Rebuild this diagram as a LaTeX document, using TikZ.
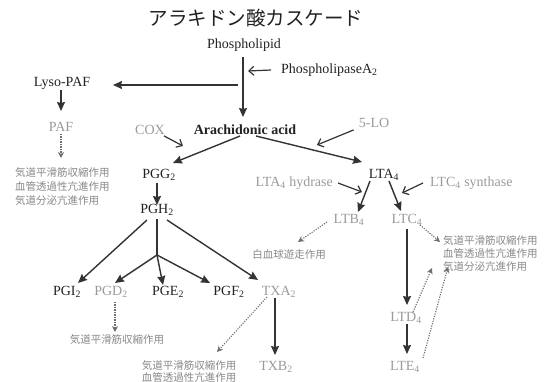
\documentclass[tikz,border=0pt]{standalone}
\usepackage{fontspec}
\setmainfont{Liberation Serif}
\newfontfamily\jp{Noto Sans CJK JP}
\usetikzlibrary{arrows.meta}
\definecolor{ink}{HTML}{222222}
\definecolor{lightink}{HTML}{9A9A9A}
\definecolor{effink}{HTML}{888888}
\definecolor{lineink}{HTML}{333333}
\definecolor{dotink}{HTML}{6E6E6E}
\tikzset{
  lbl/.style={inner sep=2pt, text=ink, font=\fontsize{14}{16}\selectfont},
  glbl/.style={lbl, text=lightink},
  eff/.style={inner sep=1pt, text=effink, align=left, font=\jp\fontsize{10.5}{14}\selectfont},
  arr/.style={draw=lineink, line width=1.4pt, -{Stealth[length=9pt,width=8pt,inset=1pt]}},
  open/.style={draw=lineink, line width=1.2pt, -{Straight Barb[length=5pt,width=9pt]}},
  plain/.style={draw=lineink, line width=1.4pt},
  dots/.style={draw=dotink, line width=1.1pt, dash pattern=on 1.2pt off 1.3pt, -{Stealth[length=6pt,width=6pt]}},
}
\begin{document}
\begin{tikzpicture}[x=1pt,y=-1pt]
\useasboundingbox (0,0) rectangle (547,382);
\clip (0,0) rectangle (547,382);
% title
\node[lbl, font=\jp\fontsize{19.5}{22}\selectfont] (title) at (256,18) {アラキドン酸カスケード};
% top part
\node[lbl] (phos) at (244,45) {Phospholipid};
\node[lbl, anchor=west] (pla) at (279,70) {PhospholipaseA\textsubscript{2}};
\node[lbl] (lyso) at (62,83) {Lyso-PAF};
\node[glbl] (paf) at (61,127) {PAF};
\node[eff, anchor=west] (pafeff) at (14,187) {気道平滑筋収縮作用\\血管透過性亢進作用\\気道分泌亢進作用};
\node[glbl] (cox) at (150,130) {COX};
\node[lbl, font=\bfseries\fontsize{14}{16}\selectfont] (aa) at (245,130) {Arachidonic acid};
\node[glbl] (lo5) at (374,123) {5-LO};
% PG branch
\node[lbl] (pgg) at (159,175) {PGG\textsubscript{2}};
\node[lbl] (pgh) at (157,210) {PGH\textsubscript{2}};
\node[lbl] (pgi) at (67,292) {PGI\textsubscript{2}};
\node[glbl] (pgd) at (111,292) {PGD\textsubscript{2}};
\node[lbl] (pge) at (168,292) {PGE\textsubscript{2}};
\node[lbl] (pgf) at (229,292) {PGF\textsubscript{2}};
\node[glbl] (txa) at (279,292) {TXA\textsubscript{2}};
\node[glbl] (txb) at (276,367) {TXB\textsubscript{2}};
\node[eff] (pgdeff) at (117,340) {気道平滑筋収縮作用};
\node[eff, font=\jp\fontsize{10.5}{12}\selectfont] (txaeff) at (189,372) {気道平滑筋収縮作用\\血管透過性亢進作用};
% LT branch
\node[lbl] (lta) at (384,175) {LTA\textsubscript{4}};
\node[glbl, anchor=east] (hyd) at (335,183) {LTA\textsubscript{4} hydrase};
\node[glbl, anchor=west] (syn) at (428,183) {LTC\textsubscript{4} synthase};
\node[glbl] (ltb) at (349,220) {LTB\textsubscript{4}};
\node[glbl] (ltc) at (407,220) {LTC\textsubscript{4}};
\node[eff] (wbc) at (289,255) {白血球遊走作用};
\node[eff, anchor=west, font=\jp\fontsize{10.5}{13}\selectfont] (ltceff) at (442,254) {気道平滑筋収縮作用\\血管透過性亢進作用\\気道分泌亢進作用};
\node[glbl] (ltd) at (406,318) {LTD\textsubscript{4}};
\node[glbl] (lte) at (405,367) {LTE\textsubscript{4}};
% helper coordinates
\coordinate (vtop) at (243,57);
\coordinate (vbot) at (243,117);
\coordinate (plaend) at (248,71);
\coordinate (lysostart) at (238,85);
\coordinate (lysoend) at (113,85);
\coordinate (lysodown) at (61,90);
\coordinate (pafup) at (61,111);
\coordinate (pafdown) at (61,158);
\coordinate (coxend) at (183,146);
\coordinate (aaL) at (240,136);
\coordinate (aaR) at (256,136);
\coordinate (pggin) at (173,163);
\coordinate (ltain) at (362,162);
\coordinate (lo5end) at (317,145);
\coordinate (hydend) at (362,192);
\coordinate (synend) at (402,193);
\coordinate (jn) at (157,255);
\coordinate (e1) at (432,268);
\coordinate (e2) at (448,267);
% connectors
\draw[arr] (vtop) -- (vbot);
\draw[open] ([xshift=-8pt]pla.west) -- (plaend);
\draw[arr] (lysostart) -- (lysoend);
\draw[arr] (lysodown) -- (pafup);
\draw[dots] (paf.south) -- (pafdown);
\draw[open] ([shift={(-3pt,1pt)}]cox.south east) -- (coxend);
\draw[arr] (aaL) -- (pggin);
\draw[arr] (aaR) -- (ltain);
\draw[open] ([xshift=-3pt]lo5.south west) -- (lo5end);
\draw[open] ([xshift=3pt]hyd.east) -- (hydend);
\draw[open] ([xshift=-5pt]syn.west) -- (synend);
\draw[arr] (370,181) -- (358,212);
\draw[arr] (389,181) -- (401,211);
\draw[dots] (327,222) -- (298,242);
\draw[dots] (420,225) -- (440,242);
\draw[arr] (407,229) -- (407,305);
\draw[arr] (407,324) -- (407,354);
\draw[dots] (413,312) -- (e1);
\draw[dots] (423,358) -- (e2);
\draw[arr] (157,183) -- (157,205);
\draw[arr] (147,220) -- (78,283);
\draw[plain] (157,219) -- (jn);
\draw[arr] (jn) -- (115,283);
\draw[arr] (jn) -- (163,285);
\draw[arr] (jn) -- (210,283);
\draw[arr] (167,220) -- (258,280);
\draw[dots] (115,302) -- (115,332);
\draw[dots] (267,297) -- (217,352);
\draw[arr] (275,298) -- (275,355);
\end{tikzpicture}
\end{document}
